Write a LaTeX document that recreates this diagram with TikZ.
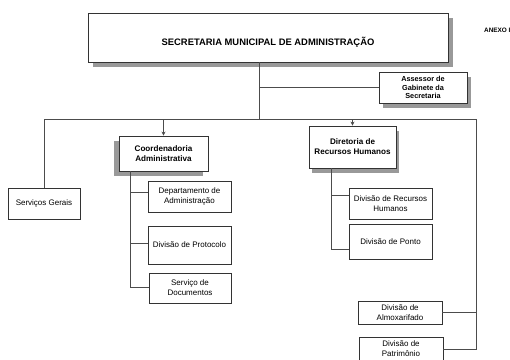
\documentclass[tikz,border=0pt]{standalone}
\usepackage{fontspec}
\setmainfont{Liberation Sans}
\usetikzlibrary{arrows.meta,shadows}
\tikzset{
  box/.style={draw=black!80, line width=0.8pt, fill=white, align=center, inner sep=1pt,
    font=\fontsize{8}{10}\selectfont},
  bbox/.style={box, font=\fontsize{8.1}{10}\selectfont\bfseries},
  shad/.style={drop shadow={shadow xshift=#1, shadow yshift=-5pt, fill=black!40, opacity=1}},
  conn/.style={draw=black!70, line width=0.8pt},
  arr/.style={conn, -{Stealth[length=4pt,width=4pt]}}
}
\begin{document}
\begin{tikzpicture}[x=1pt,y=-1pt]
\useasboundingbox (0,0) rectangle (510,359);
% boxes
\node[box, shad=5pt, minimum width=360pt, minimum height=49pt,
  font=\fontsize{9.4}{11}\selectfont\bfseries] (main) at (268,37.5) {\raisebox{0pt}[16pt][0pt]{SECRETARIA MUNICIPAL DE ADMINISTRAÇÃO}};
\node[font=\fontsize{6.4}{8}\selectfont\bfseries, anchor=west, inner sep=0pt] (anexo) at (484,30) {ANEXO I};
\node[bbox, shad=4pt, minimum width=88pt, minimum height=31pt,
  font=\fontsize{7.3}{8.3}\selectfont\bfseries] (ass) at (423,87.5) {Assessor de\\Gabinete da\\Secretaria};
\node[box, minimum width=72pt, minimum height=31pt] (sg) at (44,203.5) {Serviços Gerais};
\node[bbox, shad=-5pt, minimum width=89pt, minimum height=35pt] (coord) at (163.5,153.5) {Coordenadoria\\Administrativa};
\node[bbox, shad=3pt, minimum width=87pt, minimum height=42pt] (dir) at (352.5,147) {Diretoria de\\Recursos Humanos};
\node[box, minimum width=83pt, minimum height=31pt] (dep) at (189.5,196.5) {Departamento de\\Administração};
\node[box, minimum width=83pt, minimum height=38pt] (prot) at (189.5,245) {Divisão de Protocolo};
\node[box, minimum width=82pt, minimum height=30pt] (doc) at (190,288) {Serviço de\\Documentos};
\node[box, minimum width=83pt, minimum height=31pt] (drh) at (390.5,203.5) {Divisão de Recursos\\Humanos};
\node[box, minimum width=83pt, minimum height=35pt] (ponto) at (390.5,241.5) {Divisão de Ponto};
\node[box, minimum width=84pt, minimum height=23pt] (alm) at (400,312.5) {Divisão de\\Almoxarifado};
\node[box, minimum width=84pt, minimum height=24pt] (pat) at (401,349) {Divisão de\\Patrimônio};
% coordinates
\coordinate (j) at (259,119);
\coordinate (busR) at (476,119);
\coordinate (cx) at (130,171);
\coordinate (dx) at (331,168);
% connectors
\draw[conn] (main.south -| j) -- (j);
\draw[conn] (ass.west -| j) -- (ass.west);
\draw[conn] (sg.north) |- (busR);
\draw[arr] (coord.north |- j) -- (coord.north);
\draw[arr] (dir.north |- j) -- (dir.north);
\draw[conn] (busR) |- (pat.east);
\draw[conn] (alm.east) -- (alm.east -| busR);
\draw[conn] (cx) |- ([yshift=1pt]doc.west);
\draw[conn] ([yshift=4.5pt]dep.west -| cx) -- ([yshift=4.5pt]dep.west);
\draw[conn] ([yshift=2pt]prot.west -| cx) -- ([yshift=2pt]prot.west);
\draw[conn] (dx) |- ([yshift=-7.5pt]ponto.west);
\draw[conn] ([yshift=8.5pt]drh.west -| dx) -- ([yshift=8.5pt]drh.west);
\end{tikzpicture}
\end{document}
